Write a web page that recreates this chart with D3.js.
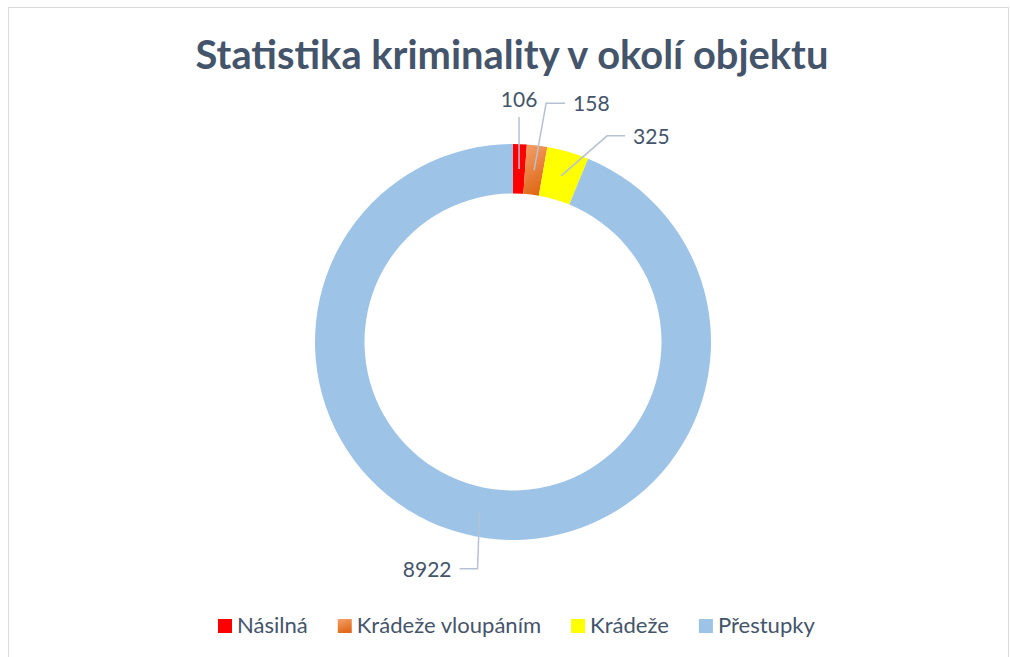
<!DOCTYPE html>
<html>
<head>
<meta charset="utf-8">
<script src="https://cdn.jsdelivr.net/npm/d3@7"></script>
<style>
  body { margin: 0; background: #fff; }
  text { font-family: Lato, "Open Sans", sans-serif; }
</style>
</head>
<body>
<div id="chart"></div>
<script>
// data
var categories = ["Násilná", "Krádeže vloupáním", "Krádeže", "Přestupky"];
var values = [106, 158, 325, 8922];
var colors = ["#FF0000", "url(#gradOrange)", "#FFFF00", "#9DC3E6"];
var swatch = ["#FF0000", "url(#gradOrangeSw)", "#FFFF00", "#9DC3E6"];
var title = "Statistika kriminality v okolí objektu";

// label layout: offset of the label anchor from the slice midpoint, elbow of the leader
var labelLayout = [
    { dx: 0,   dy: -66, anchor: "middle", elbow: null },
    { dx: 39,  dy: -59, anchor: "start",  elbow: [-19, 0] },
    { dx: 72,  dy: -32, anchor: "start",  elbow: [-18, 0] },
    { dx: -28, dy: 65,  anchor: "end",    elbow: [18, 0] }
];

var W = 1010, H = 657;
var cx = 513, cy = 342, outerR = 198, innerR = 148.5;

var svg = d3.select("#chart").append("svg")
    .attr("width", W).attr("height", H);

var defs = svg.append("defs");
function grad(id) {
    var g = defs.append("linearGradient").attr("id", id)
        .attr("x1", 0).attr("y1", 0).attr("x2", 0.3).attr("y2", 1);
    g.append("stop").attr("offset", "0%").attr("stop-color", "#F4A06A");
    g.append("stop").attr("offset", "100%").attr("stop-color", "#E06A1A");
}
grad("gradOrange");
grad("gradOrangeSw");

// chart border
svg.append("rect")
    .attr("x", 8.5).attr("y", 7.5).attr("width", 1000).attr("height", 700)
    .attr("fill", "none").attr("stroke", "#D9D9D9").attr("stroke-width", 1);

// title, sized to the width it takes in the picture
var t = svg.append("text")
    .attr("x", 512).attr("y", 69)
    .attr("text-anchor", "middle")
    .attr("font-weight", "bold")
    .attr("font-size", 36)
    .attr("fill", "#44546A")
    .text(title);
var tw = t.node().getComputedTextLength();
t.attr("font-size", 36 * 633 / tw);

var pie = d3.pie().sort(null).value(function(d) { return d; });
var arcs = pie(values);
var arc = d3.arc().innerRadius(innerR).outerRadius(outerR);
var midArc = d3.arc().innerRadius(173).outerRadius(173);

var g = svg.append("g").attr("transform", "translate(" + cx + "," + cy + ")");

g.selectAll("path.slice")
    .data(arcs)
    .enter()
    .append("path")
        .attr("class", "slice")
        .attr("d", arc)
        .attr("fill", function(d, i) { return colors[i]; });

// leader lines and value labels
arcs.forEach(function(d, i) {
    var c = midArc.centroid(d);
    var L = labelLayout[i];
    var lx = c[0] + L.dx, ly = c[1] + L.dy;
    var pts;
    if (L.elbow === null) {
        pts = [[c[0], c[1]], [lx, ly + 14]];
    } else {
        var gap = L.anchor === "start" ? -8 : 8;
        var ex = lx + gap, ey = ly - 8;
        pts = [[c[0], c[1]], [ex + L.elbow[0], ey + L.elbow[1]], [ex, ey]];
    }
    g.append("path")
        .attr("d", d3.line()(pts))
        .attr("fill", "none")
        .attr("stroke", "#B4C2D3")
        .attr("stroke-width", 1.5);
    g.append("text")
        .attr("x", lx).attr("y", L.elbow === null ? ly + 4 : ly)
        .attr("text-anchor", L.anchor)
        .attr("font-size", 21)
        .attr("fill", "#44546A")
        .text(values[i]);
});

// legend, fitted to the span it takes in the picture (x 218..815)
var legend = svg.append("g");
var items = [];
var fs = 19;
categories.forEach(function(c, i) {
    var it = legend.append("g");
    it.append("rect")
        .attr("x", 0).attr("y", -14).attr("width", 14).attr("height", 14)
        .attr("fill", swatch[i]);
    var tx = it.append("text")
        .attr("x", 19).attr("y", 0)
        .attr("font-size", fs)
        .attr("fill", "#44546A")
        .text(c);
    items.push({ g: it, t: tx });
});
var gapL = 30;
var textW = d3.sum(items, function(d) { return d.t.node().getComputedTextLength(); });
var fixedW = items.length * 19 + gapL * (items.length - 1);
var scale = (597 - fixedW) / textW;
items.forEach(function(d) { d.t.attr("font-size", fs * scale); });
var x0 = 218;
items.forEach(function(d) {
    d.g.attr("transform", "translate(" + x0 + ",0)");
    x0 += 19 + d.t.node().getComputedTextLength() + gapL;
});
legend.attr("transform", "translate(0,633)");
</script>
</body>
</html>
